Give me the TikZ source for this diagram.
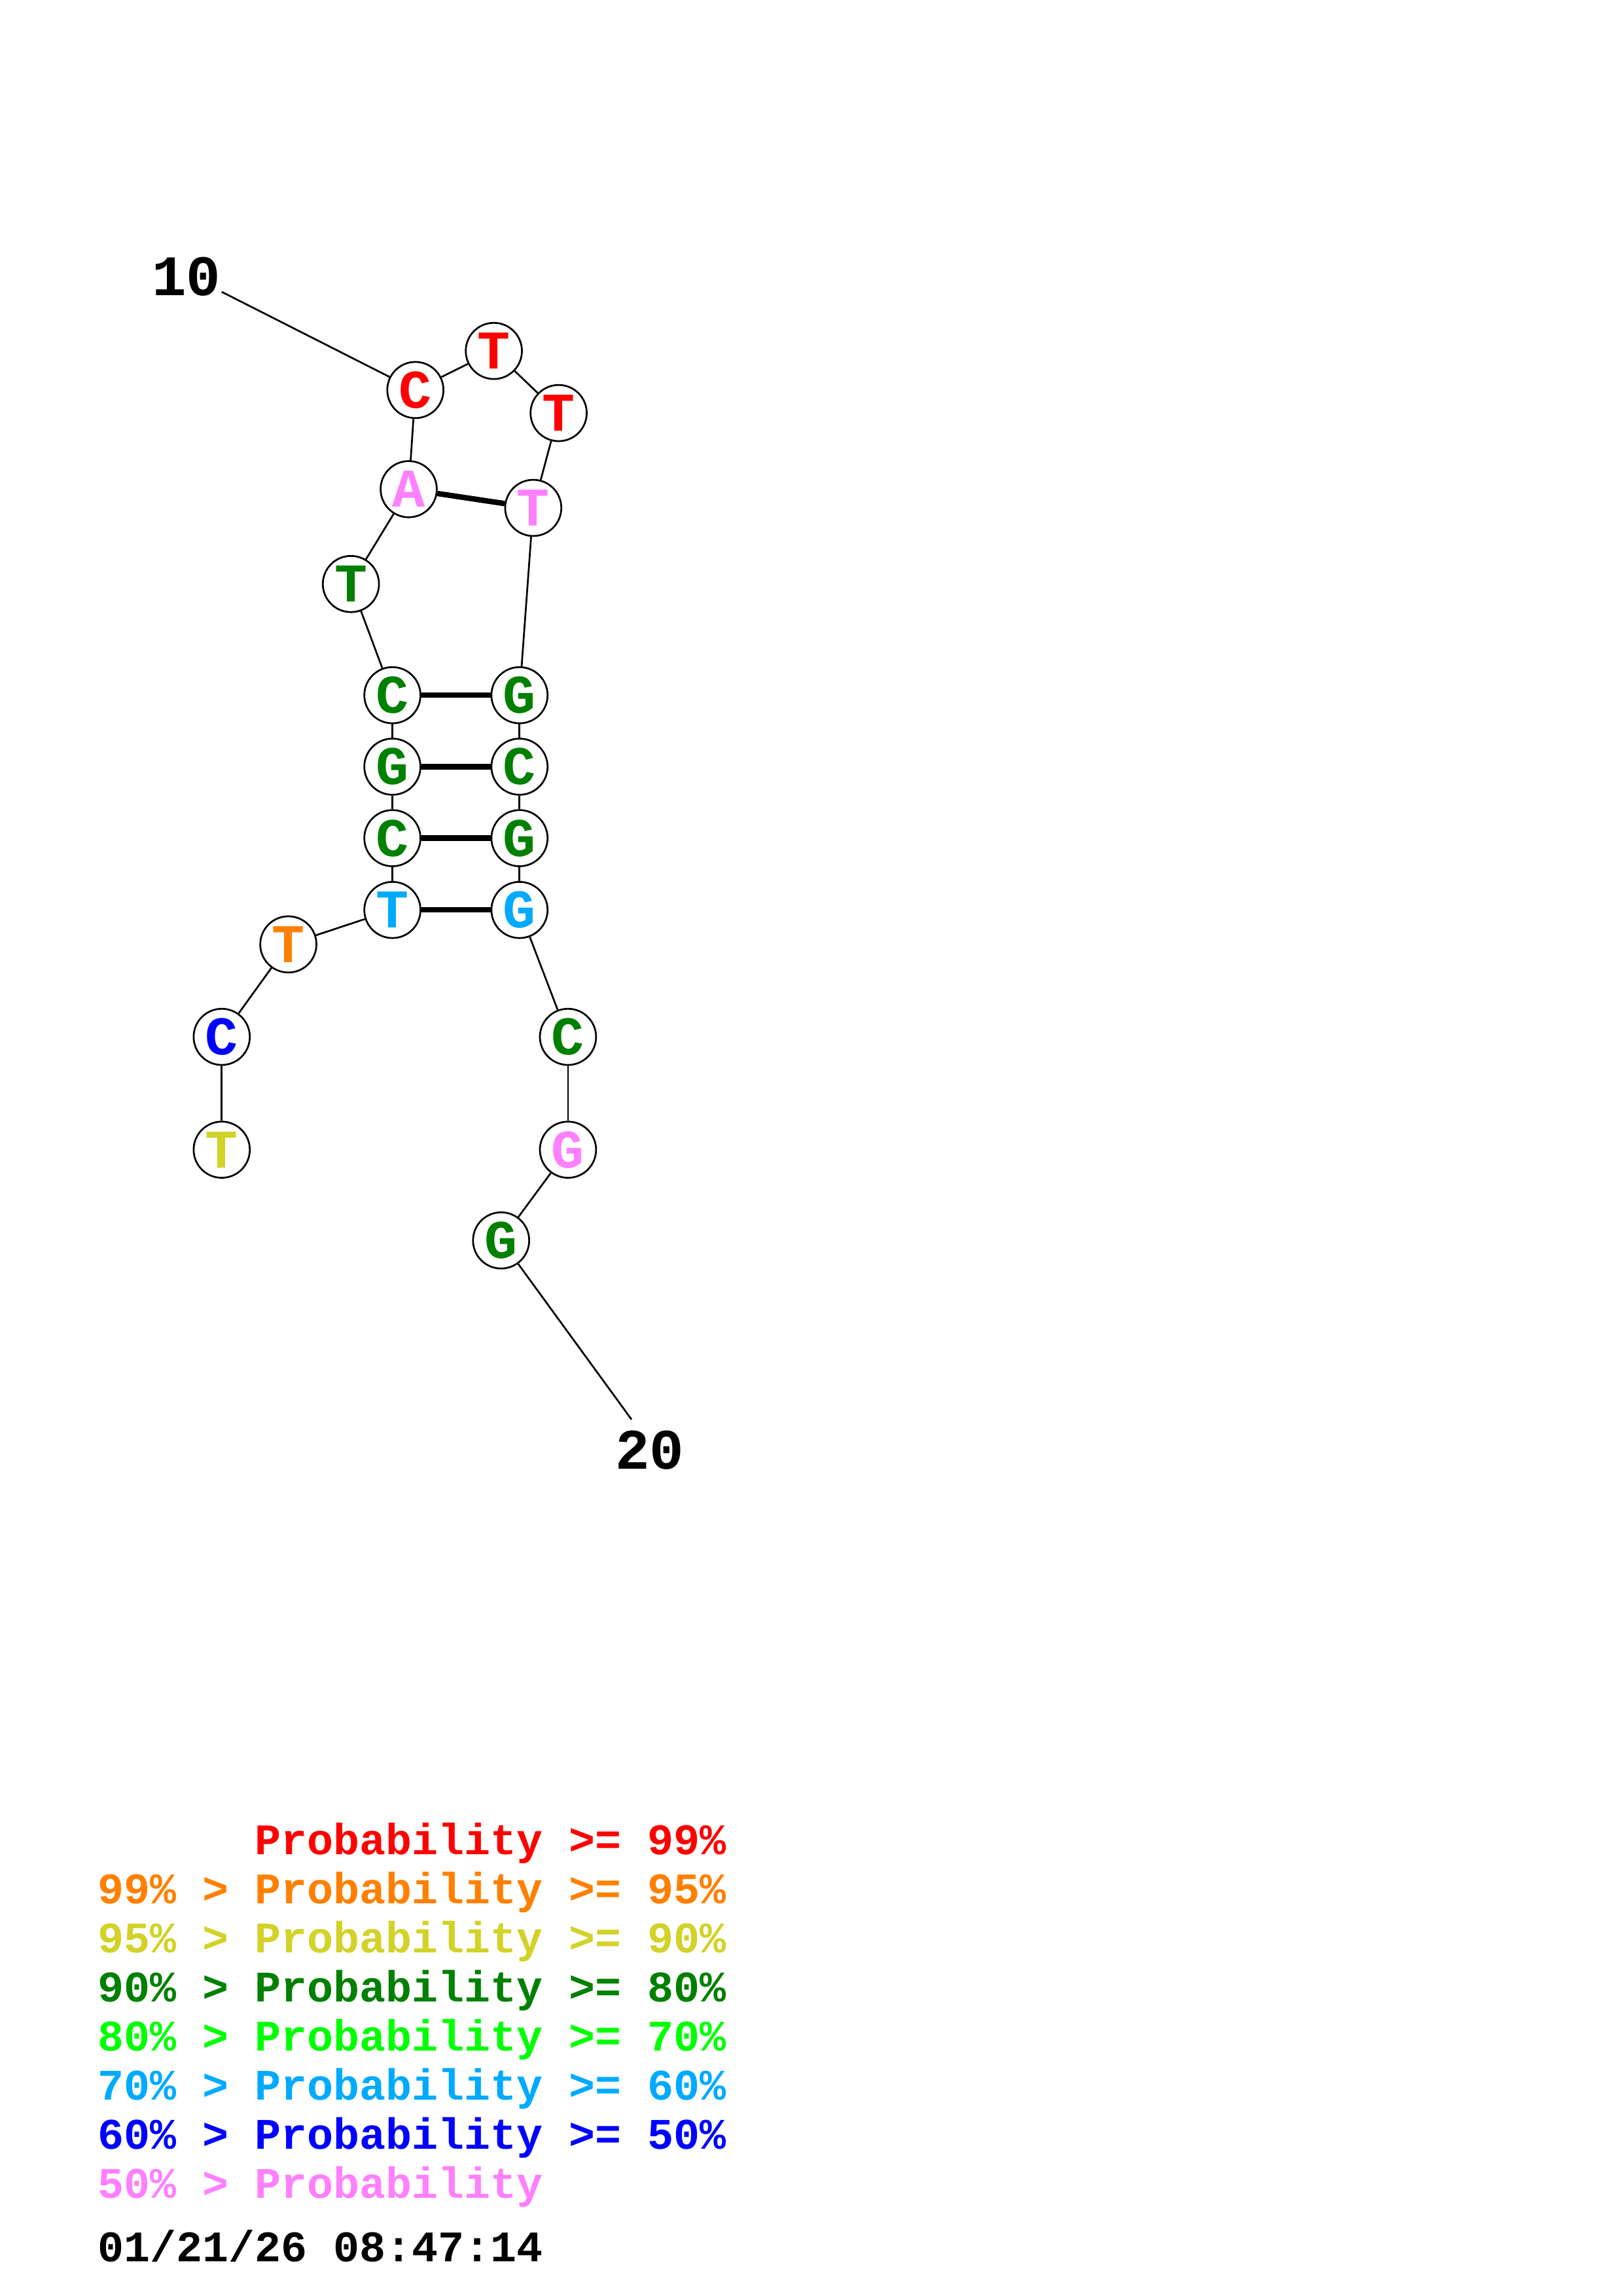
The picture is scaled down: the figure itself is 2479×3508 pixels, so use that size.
\documentclass[tikz,border=0pt]{standalone}
\usepackage{fontspec}
\setmonofont{Liberation Mono}
\usepackage{tikz}
\usetikzlibrary{positioning}
\definecolor{pnine}{RGB}{255,0,0}
\definecolor{pfive}{RGB}{255,128,0}
\definecolor{pninety}{RGB}{210,210,40}
\definecolor{peighty}{RGB}{0,128,0}
\definecolor{pseventy}{RGB}{0,255,0}
\definecolor{psixty}{RGB}{0,170,255}
\definecolor{pfifty}{RGB}{0,0,255}
\definecolor{plow}{RGB}{255,128,255}
\tikzset
{
  basenode/.style = {circle, draw=black, fill=white, line width=0.65pt, minimum size=20.6pt, inner sep=0pt, font=\ttfamily\bfseries\fontsize{20}{20}\selectfont},
  endlabel/.style = {inner sep=0pt, font=\ttfamily\bfseries\fontsize{21}{21}\selectfont},
  legendrow/.style = {anchor=base west, inner sep=0pt, font=\ttfamily\bfseries\fontsize{16}{16}\selectfont},
  chainline/.style = {line width=0.65pt},
  pairline/.style  = {line width=2pt}
}
\begin{document}
\begin{tikzpicture}[x=0.24pt,y=-0.24pt]
            \useasboundingbox (0,0) rectangle (2479,3508);
            % bases 1 to 20
            \node [basenode, text=pninety]  (n1)  at (338.8,1756.6) {T};
            \node [basenode, text=pfifty]   (n2)  at (338.8,1584.2) {C};
            \node [basenode, text=pfive]    (n3)  at (440.6,1442.9) {T};
            \node [basenode, text=psixty]   (n4)  at (599.6,1390.3) {T};
            \node [basenode, text=peighty]  (n5)  at (599.6,1280.6) {C};
            \node [basenode, text=peighty]  (n6)  at (599.6,1171.4) {G};
            \node [basenode, text=peighty]  (n7)  at (599.6,1062.2) {C};
            \node [basenode, text=peighty]  (n8)  at (536.2,892.3)  {T};
            \node [basenode, text=plow]     (n9)  at (624.5,747.4)  {A};
            \node [basenode, text=pnine]    (n10) at (634.7,595.9)  {C};
            \node [basenode, text=pnine]    (n11) at (754.6,536.2)  {T};
            \node [basenode, text=pnine]    (n12) at (853.6,631.1)  {T};
            \node [basenode, text=plow]     (n13) at (814.8,776.0)  {T};
            \node [basenode, text=peighty]  (n14) at (793.8,1062.2) {G};
            \node [basenode, text=peighty]  (n15) at (793.8,1171.4) {C};
            \node [basenode, text=peighty]  (n16) at (793.8,1280.6) {G};
            \node [basenode, text=psixty]   (n17) at (793.8,1390.3) {G};
            \node [basenode, text=peighty]  (n18) at (867.9,1584.2) {C};
            \node [basenode, text=plow]     (n19) at (867.9,1756.6) {G};
            \node [basenode, text=peighty]  (n20) at (765.7,1895.2) {G};
            % backbone
            \foreach \i in {1,...,19}
            {
              \pgfmathtruncatemacro{\j}{\i+1}
              \draw [chainline] (n\i) -- (n\j);
            }
            % pairs
            \draw [pairline] (n4) -- (n17);
            \draw [pairline] (n5) -- (n16);
            \draw [pairline] (n6) -- (n15);
            \draw [pairline] (n7) -- (n14);
            \draw [pairline] (n9) -- (n13);
            % numbering
            \node [endlabel] (l10) at (285,422.5) {10};
            \coordinate (e10) at (338.8,445.9);
            \draw [chainline] (e10) -- (n10);
            \node [endlabel] (l20) at (992.5,2215.7) {20};
            \coordinate (e20) at (965,2168.8);
            \draw [chainline] (n20) -- (e20);
            % legend
            \node [legendrow, text=pnine]    (r1) at (149,2833.7) {\hphantom{99\% > }Probability >= 99\%};
            \node [legendrow, text=pfive]    (r2) at (149,2908.6) {99\% > Probability >= 95\%};
            \node [legendrow, text=pninety]  (r3) at (149,2983.5) {95\% > Probability >= 90\%};
            \node [legendrow, text=peighty]  (r4) at (149,3058.4) {90\% > Probability >= 80\%};
            \node [legendrow, text=pseventy] (r5) at (149,3133.3) {80\% > Probability >= 70\%};
            \node [legendrow, text=psixty]   (r6) at (149,3208.2) {70\% > Probability >= 60\%};
            \node [legendrow, text=pfifty]   (r7) at (149,3283.1) {60\% > Probability >= 50\%};
            \node [legendrow, text=plow]     (r8) at (149,3358.0) {50\% > Probability};
            \node [legendrow, text=black]    (dt) at (149,3455.1) {01/21/26 08:47:14};
          \end{tikzpicture}
\end{document}
